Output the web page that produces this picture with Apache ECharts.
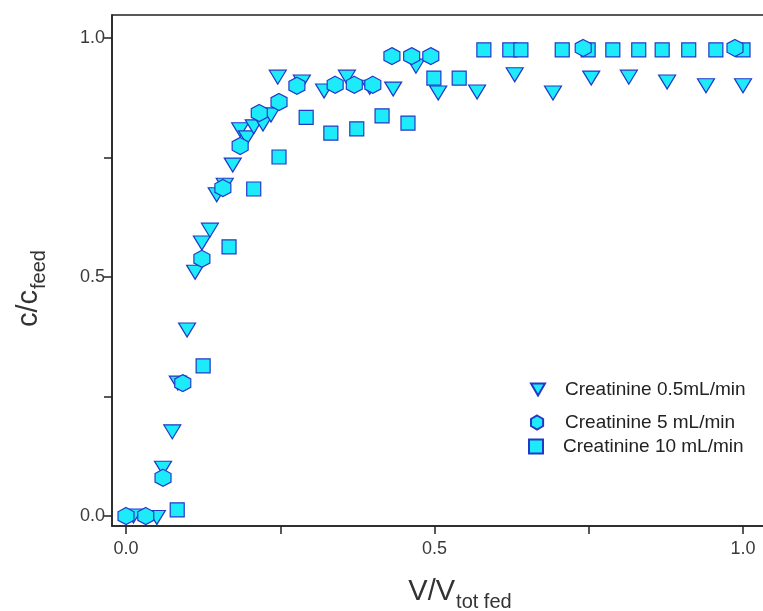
<!DOCTYPE html>
<html>
<head>
<meta charset="utf-8">
<script src="https://cdn.jsdelivr.net/npm/echarts@6/dist/echarts.min.js"></script>
<style>
  html, body { margin: 0; padding: 0; background: #fff; }
  #chart { width: 763px; height: 611px; }
</style>
</head>
<body>
<div id="chart"></div>
<script>
// Creatinine 0.5 mL/min (triangles)
var lowX = [0.012, 0.05, 0.06, 0.075, 0.084, 0.099, 0.112, 0.123, 0.136, 0.147, 0.16, 0.173, 0.185, 0.196, 0.207, 0.222, 0.235, 0.246, 0.285, 0.321, 0.358, 0.395, 0.433, 0.47, 0.506, 0.569, 0.63, 0.692, 0.754, 0.815, 0.877, 0.94, 1.0];
var lowY = [0.0, -0.003, 0.10, 0.176, 0.278, 0.389, 0.51, 0.571, 0.598, 0.672, 0.692, 0.734, 0.808, 0.791, 0.814, 0.82, 0.839, 0.918, 0.908, 0.889, 0.918, 0.897, 0.893, 0.941, 0.885, 0.887, 0.923, 0.885, 0.916, 0.918, 0.908, 0.9, 0.9];
// Creatinine 5 mL/min (hexagons)
var midX = [0.0, 0.032, 0.06, 0.092, 0.123, 0.157, 0.185, 0.216, 0.248, 0.277, 0.339, 0.37, 0.40, 0.431, 0.463, 0.494, 0.741, 0.987];
var midY = [0.0, 0.0, 0.08, 0.278, 0.538, 0.686, 0.774, 0.843, 0.866, 0.9, 0.902, 0.902, 0.902, 0.962, 0.962, 0.962, 0.979, 0.979];
// Creatinine 10 mL/min (squares)
var highX = [0.083, 0.125, 0.167, 0.207, 0.248, 0.292, 0.332, 0.374, 0.415, 0.457, 0.499, 0.54, 0.58, 0.622, 0.64, 0.707, 0.749, 0.789, 0.831, 0.869, 0.912, 0.956, 1.0];
var highY = [0.013, 0.314, 0.563, 0.684, 0.751, 0.834, 0.801, 0.81, 0.837, 0.822, 0.916, 0.916, 0.975, 0.975, 0.975, 0.975, 0.975, 0.975, 0.975, 0.975, 0.975, 0.975, 0.975];

var seriesNames = ['Creatinine 0.5mL/min', 'Creatinine 5 mL/min', 'Creatinine 10 mL/min'];
var tickValues = [0, 0.25, 0.5, 0.75, 1];
var labelValues = [0, 0.5, 1];

var pairs = function (xs, ys) { return xs.map(function (x, i) { return [x, ys[i]]; }); };

var fill = '#1EEBFA';
var edge = '#2238C8';
var hexPath = 'path://M50,0 L93.3,25 L93.3,75 L50,100 L6.7,75 L6.7,25 Z';
var downTri = 'path://M0,0 L100,0 L50,86 Z';
var font = 'Liberation Sans, Arial, sans-serif';

var chart = echarts.init(document.getElementById('chart'));

var legendBase = function (name, icon, left, top, padLeft) {
  return {
    data: [{ name: name, icon: icon }],
    left: left,
    top: top,
    itemWidth: 14,
    itemHeight: 14,
    padding: 0,
    textStyle: { fontFamily: font, fontSize: 19, color: '#222', padding: [0, 0, 0, padLeft] }
  };
};

var axisCommon = {
  type: 'value',
  axisLine: { show: true, onZero: false, lineStyle: { color: '#222', width: 1.5 } },
  axisTick: { show: true, length: 8, customValues: tickValues, lineStyle: { color: '#222', width: 1.5 } },
  splitLine: { show: false },
  axisLabel: {
    customValues: labelValues,
    formatter: function (v) { return v.toFixed(1); },
    fontFamily: font,
    fontSize: 18,
    color: '#3a3a3a'
  }
};

var titleRich = {
  a: { fontFamily: font, fontSize: 29, color: '#333', lineHeight: 32, verticalAlign: 'top' },
  s: { fontFamily: font, fontSize: 20, color: '#333', lineHeight: 20, verticalAlign: 'top', padding: [15, 0, 0, 1] }
};

chart.setOption({
  animation: false,
  backgroundColor: '#fff',
  grid: {
    left: 112, top: 15, right: -5, bottom: 85,
    outerBoundsMode: 'none',
    containLabel: false,
    show: true, borderColor: '#222', borderWidth: 1.5
  },
  legend: [
    legendBase(seriesNames[0], downTri, 530, 380, 15),
    legendBase(seriesNames[1], hexPath, 530, 413, 16),
    legendBase(seriesNames[2], 'rect', 528, 437, 15)
  ],
  xAxis: Object.assign({}, axisCommon, {
    min: -0.0227,
    max: 1.0405,
    axisLabel: Object.assign({}, axisCommon.axisLabel, { margin: 14 }),
    name: '{a|V/V}{s|tot fed}',
    nameLocation: 'middle',
    nameGap: 51,
    nameTextStyle: { rich: titleRich, padding: [0, 0, 0, 40] }
  }),
  yAxis: Object.assign({}, axisCommon, {
    min: -0.0209,
    max: 1.048,
    axisLabel: Object.assign({}, axisCommon.axisLabel, { margin: 7 }),
    name: '{a|c/c}{s|feed}',
    nameLocation: 'middle',
    nameRotate: 90,
    nameGap: 66,
    nameTextStyle: { rich: titleRich, padding: [0, 36, 0, 0] }
  }),
  series: [
    {
      name: seriesNames[2],
      type: 'scatter',
      symbol: 'rect',
      symbolSize: 14,
      itemStyle: { color: fill, borderColor: edge, borderWidth: 1.2, opacity: 1 },
      data: pairs(highX, highY),
      z: 2
    },
    {
      name: seriesNames[0],
      type: 'scatter',
      symbol: 'triangle',
      symbolRotate: 180,
      symbolSize: [17, 14],
      itemStyle: { color: fill, borderColor: edge, borderWidth: 1.2, opacity: 1 },
      data: pairs(lowX, lowY),
      z: 3
    },
    {
      name: seriesNames[1],
      type: 'scatter',
      symbol: hexPath,
      symbolSize: [16, 17],
      itemStyle: { color: fill, borderColor: edge, borderWidth: 1.2, opacity: 1 },
      data: pairs(midX, midY),
      z: 4
    }
  ]
});
</script>
</body>
</html>
